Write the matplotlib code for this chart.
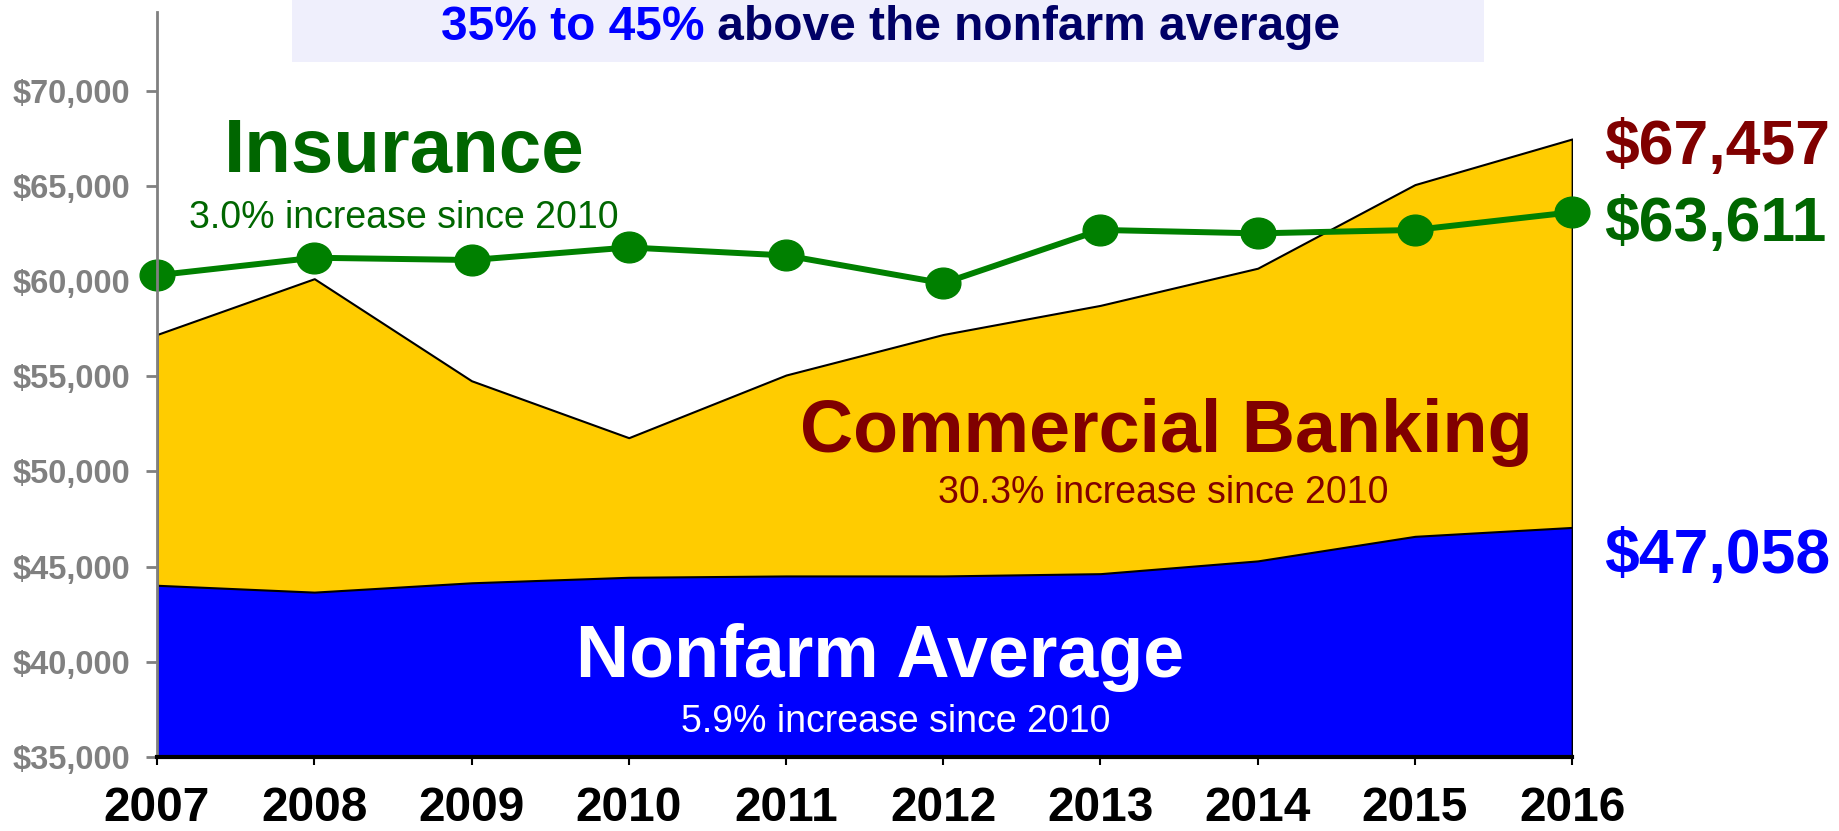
import matplotlib
matplotlib.use("Agg")
import matplotlib.pyplot as plt
from matplotlib.patches import Rectangle
from matplotlib.path import Path
from matplotlib.transforms import Affine2D
from matplotlib.ticker import FuncFormatter

plt.rcParams['font.family'] = ['Liberation Sans', 'DejaVu Sans']

# Datos
years = [2007, 2008, 2009, 2010, 2011, 2012, 2013, 2014, 2015, 2016]
nonfarm = [44020, 43660, 44150, 44440, 44510, 44510, 44630, 45300, 46590, 47058]
banking = [57190, 60120, 54760, 51770, 55060, 57190, 58720, 60670, 65060, 67457]
insurance = [60300, 61220, 61100, 61760, 61340, 59880, 62680, 62500, 62680, 63611]
y_ticks = [35000, 40000, 45000, 50000, 55000, 60000, 65000, 70000]

fig = plt.figure(figsize=(18.39, 8.31), dpi=100)
ax = fig.add_axes([0.0854, 0.089, 0.7695, 0.896])
ax.patch.set_visible(False)

ymin = 35000
ax.fill_between(years, ymin, banking, facecolor='#FFCC00', edgecolor='black', linewidth=1.5, zorder=1)
ax.fill_between(years, ymin, nonfarm, facecolor='#0000FF', edgecolor='black', linewidth=1.5, zorder=2)

# Marcador eliptico para la serie de seguros
ellipse = Path.unit_circle().transformed(Affine2D().scale(1.13, 1.0))
ax.plot(years, insurance, color='#008000', linewidth=4.3, marker=ellipse,
        markersize=25, zorder=4, clip_on=False)

ax.set_xlim(years[0], years[-1])
ax.set_ylim(ymin, 74100)
ax.set_xticks(years)
ax.set_yticks(y_ticks)
ax.yaxis.set_major_formatter(FuncFormatter(lambda v, p: '${:,.0f}'.format(v)))

for s in ['top', 'right']:
    ax.spines[s].set_visible(False)
ax.spines['left'].set_color('#808080')
ax.spines['left'].set_linewidth(2)
ax.spines['left'].set_zorder(5)
ax.spines['bottom'].set_color('black')
ax.spines['bottom'].set_linewidth(3)
ax.spines['bottom'].set_zorder(5)

ax.tick_params(axis='y', colors='#808080', length=8, width=2, pad=11, labelsize=23.5)
ax.tick_params(axis='x', colors='black', length=6, width=1.5, pad=15, labelsize=34.5)
for lbl in ax.get_yticklabels():
    lbl.set_fontweight('bold')
for lbl in ax.get_xticklabels():
    lbl.set_fontweight('bold')

# Etiquetas de las series
ax.text(2008.57, 66770, 'Insurance', color='#006600', fontsize=55, fontweight='bold',
        ha='center', va='center')
ax.text(2008.57, 63300, '3.0% increase since 2010', color='#006600', fontsize=27,
        ha='center', va='center')
ax.text(2013.42, 52030, 'Commercial Banking', color='#800000', fontsize=53, fontweight='bold',
        ha='center', va='center')
ax.text(2013.40, 48860, '30.3% increase since 2010', color='#800000', fontsize=27,
        ha='center', va='center')
ax.text(2011.60, 40215, 'Nonfarm Average', color='white', fontsize=53, fontweight='bold',
        ha='center', va='center')
ax.text(2011.70, 36865, '5.9% increase since 2010', color='white', fontsize=27,
        ha='center', va='center')

# Valores finales a la derecha
ax.annotate('${:,}'.format(banking[-1]), (years[-1], banking[-1]), xytext=(23, -6),
            textcoords='offset points', color='#800000', fontsize=45, fontweight='bold',
            va='center', ha='left', annotation_clip=False)
ax.annotate('${:,}'.format(insurance[-1]), (years[-1], insurance[-1]), xytext=(23, -9),
            textcoords='offset points', color='#006600', fontsize=45, fontweight='bold',
            va='center', ha='left', annotation_clip=False)
ax.annotate('${:,}'.format(nonfarm[-1]), (years[-1], nonfarm[-1]), xytext=(23, -21),
            textcoords='offset points', color='#0000FF', fontsize=45, fontweight='bold',
            va='center', ha='left', annotation_clip=False)

# Banda superior
fig.patches.append(Rectangle((0.159, 0.925), 0.648, 0.075, transform=fig.transFigure,
                             facecolor='#EFEFFC', edgecolor='none', zorder=-1))
t1 = fig.text(0.2398, 0.952, '35% to 45%', color='#0000FF', fontsize=34.5, fontweight='bold',
              ha='left', va='baseline')
ax.annotate(' above the nonfarm average', xy=(1, 0), xycoords=t1, color='#000066',
            fontsize=34.5, fontweight='bold', ha='left', va='bottom', annotation_clip=False)

fig.savefig('out.png', dpi=100)
